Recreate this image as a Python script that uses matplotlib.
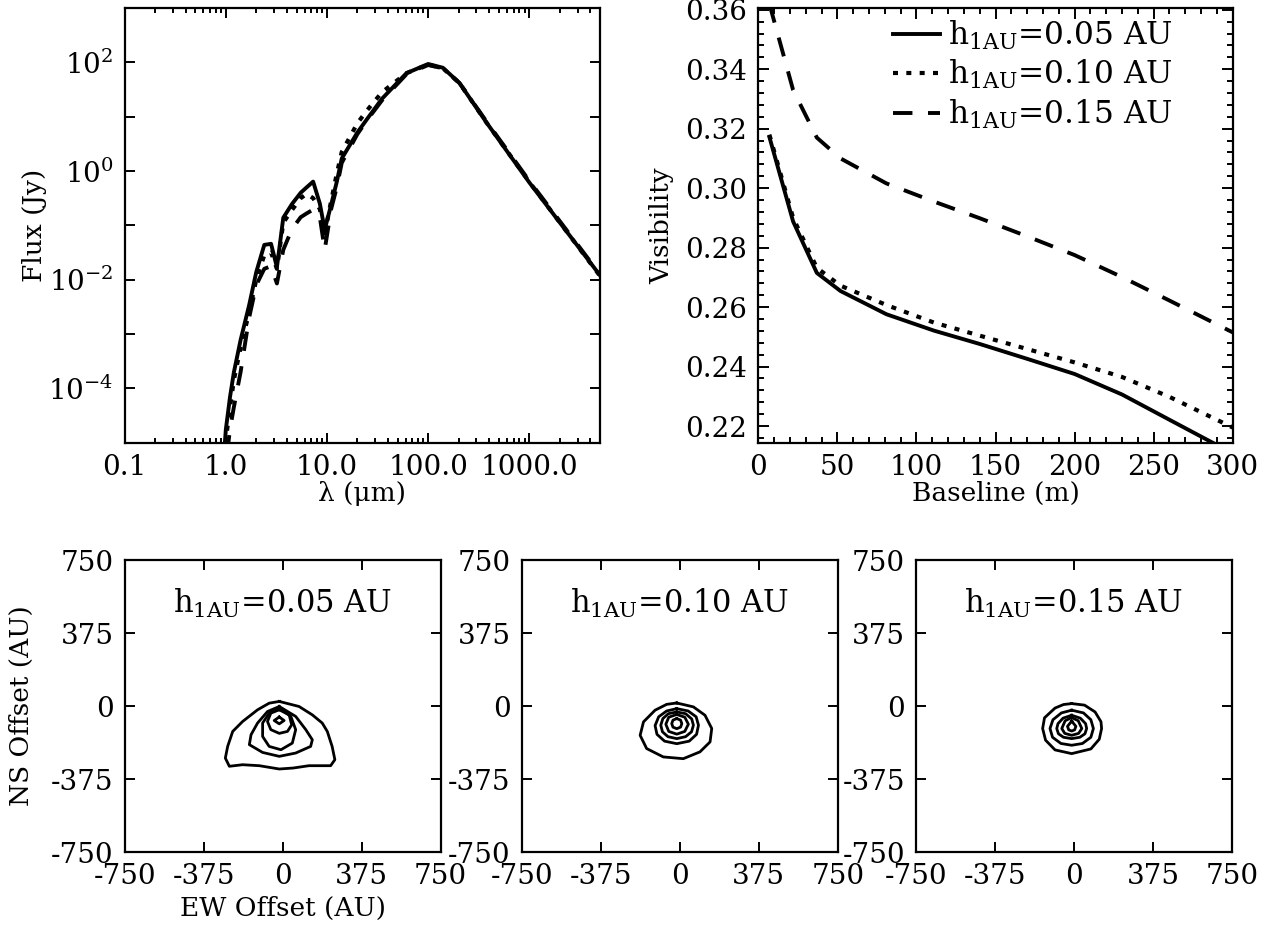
import numpy as np
import matplotlib
matplotlib.use("Agg")
import matplotlib.pyplot as plt
from matplotlib.ticker import MultipleLocator, LogLocator, NullFormatter

plt.rcParams['font.family'] = ['DejaVu Serif']
plt.rcParams['mathtext.fontset'] = 'dejavuserif'
plt.rcParams['axes.linewidth'] = 1.6

#%% data
# SED: wavelength (um) and log10 flux (Jy) for the three scale heights
wav = [0.9, 1.0, 1.1, 1.2, 1.4, 1.7, 2.0, 2.4, 2.8, 3.2, 3.7, 4.5, 5.5, 6.3, 7.3,
       8.5, 9.5, 11, 12.5, 14, 20, 25, 35, 61, 100, 140, 204, 375, 1000, 5000]
logf_005 = [-6.0, -4.76, -4.16, -3.71, -3.11, -2.47, -1.86, -1.36, -1.34, -1.77, -0.86,
            -0.61, -0.40, -0.30, -0.195, -0.60, -1.08, -0.62, -0.20, 0.23, 0.71, 0.96,
            1.33, 1.80, 1.97, 1.90, 1.62, 0.90, -0.21, -1.92]
logf_010 = [-6.0, -4.95, -4.35, -3.85, -3.25, -2.60, -2.00, -1.55, -1.50, -1.80, -0.95,
            -0.72, -0.50, -0.42, -0.50, -0.70, -1.15, -0.55, -0.05, 0.35, 0.88, 1.12,
            1.45, 1.80, 1.96, 1.89, 1.62, 0.90, -0.20, -1.93]
logf_015 = [-6.5, -5.40, -4.75, -4.35, -3.70, -2.70, -2.10, -1.80, -1.75, -2.07, -1.45,
            -1.07, -0.85, -0.78, -0.71, -0.85, -1.45, -0.70, -0.30, 0.15, 0.68, 0.94,
            1.30, 1.78, 1.95, 1.89, 1.62, 0.92, -0.18, -1.90]

# visibility vs baseline (m)
baseline = [7, 22, 37, 52, 81, 111, 140, 170, 200, 230, 260, 300]
vis_005 = [0.3172, 0.2888, 0.2715, 0.2654, 0.2576, 0.2521, 0.2476, 0.2426, 0.2375,
           0.2306, 0.2221, 0.2108]
vis_010 = [0.3180, 0.2900, 0.2732, 0.2672, 0.2607, 0.2548, 0.2504, 0.2459, 0.2414,
           0.2365, 0.2298, 0.2195]
vis_015 = [0.3620, 0.3330, 0.3170, 0.3100, 0.3016, 0.2955, 0.2899, 0.2838, 0.2775,
           0.2701, 0.2622, 0.2515]

labels = [r'h$_{\rm 1AU}$=0.05 AU', r'h$_{\rm 1AU}$=0.10 AU', r'h$_{\rm 1AU}$=0.15 AU']

# image contours (EW, NS offsets in AU), outer to inner
cont_005 = [
    [(-16, 24), (78, -2), (141, -45), (188, -87), (212, -130), (235, -207), (248, -275),
     (228, -306), (125, -306), (50, -318), (-16, -323), (-111, -306), (-190, -301),
     (-253, -309), (-272, -267), (-261, -207), (-237, -130), (-190, -79), (-119, -19),
     (-64, 15)],
    [(-16, -2), (62, -53), (110, -121), (141, -173), (133, -207), (62, -241), (-16, -258),
     (-95, -238), (-158, -198), (-150, -147), (-119, -87), (-72, -28)],
    [(-16, -10), (39, -53), (62, -121), (46, -190), (-8, -224), (-64, -207), (-95, -156),
     (-95, -87), (-64, -36)],
    [(-16, -19), (31, -45), (43, -96), (23, -130), (-16, -140), (-56, -121), (-72, -79),
     (-56, -36)],
    [(-16, -56), (7, -74), (-16, -91), (-40, -74)],
]
cont_010 = [
    [(-14, 16), (65, -4), (120, -47), (152, -115), (144, -184), (96, -235), (17, -270),
     (-78, -261), (-157, -218), (-188, -150), (-172, -81), (-117, -21), (-62, 9)],
    [(-14, -13), (40, -25), (78, -55), (89, -98), (80, -145), (45, -180), (-14, -193),
     (-72, -180), (-108, -145), (-117, -100), (-100, -55), (-62, -25)],
    [(-14, -30), (28, -39), (57, -66), (65, -98), (56, -132), (28, -157), (-14, -167),
     (-56, -157), (-82, -132), (-90, -98), (-80, -64), (-54, -39)],
    [(-14, -43), (24, -57), (41, -93), (24, -130), (-14, -144), (-52, -130), (-66, -93),
     (-52, -57)],
    [(-14, -64), (4, -72), (10, -90), (4, -108), (-14, -116), (-32, -108), (-38, -90),
     (-32, -72)],
]
cont_015 = [
    [(-11, 13), (50, 5), (100, -30), (128, -80), (131, -115), (120, -170), (80, -220),
     (-11, -244), (-90, -225), (-135, -175), (-149, -115), (-140, -60), (-90, -10),
     (-50, 8)],
    [(-11, -21), (45, -35), (80, -70), (92, -115), (80, -160), (40, -192), (-11, -201),
     (-62, -192), (-102, -160), (-114, -115), (-100, -70), (-60, -35)],
    [(-11, -47), (30, -62), (55, -90), (60, -115), (52, -142), (28, -160), (-11, -167),
     (-50, -160), (-74, -142), (-82, -115), (-76, -90), (-52, -62)],
    [(-11, -59), (20, -75), (37, -115), (22, -140), (-11, -150), (-44, -140), (-58, -115),
     (-42, -75)],
    [(-11, -77), (9, -104), (3, -122), (-11, -128), (-25, -122), (-31, -104)],
]
map_ticks = [-750, -375, 0, 375, 750]

#%% plot
fs_tick = 20
fs_lab = 19
styles = ['-', (0, (1.2, 2.0)), (0, (5.0, 4.0))]
widths = [2.8, 3.0, 2.8]

fig = plt.figure(figsize=(12.76, 9.30), dpi=100)

def style_ax(ax, major=7, minor=3.5):
    ax.tick_params(which='both', direction='in', top=True, right=True, width=1.4,
                   labelsize=fs_tick, pad=8)
    ax.tick_params(which='major', length=major)
    ax.tick_params(which='minor', length=minor)

top_b, top_h = 0.524, 0.4674

# SED
ax1 = fig.add_axes([0.0977, top_b, 0.3725, top_h])
for lf, ls, lw in zip([logf_005, logf_010, logf_015], styles, widths):
    ax1.plot(wav, 10.0 ** np.array(lf), color='k', ls=ls, lw=lw)
ax1.set_xscale('log')
ax1.set_yscale('log')
ax1.set_xlim(0.1, 5000)
ax1.set_ylim(1e-5, 1e3)
ax1.set_xticks([0.1, 1, 10, 100, 1000], ['0.1', '1.0', '10.0', '100.0', '1000.0'])
ax1.xaxis.set_minor_locator(LogLocator(base=10, subs=np.arange(2, 10)))
ax1.xaxis.set_minor_formatter(NullFormatter())
yt = [10.0 ** e for e in range(-5, 4)]
ytl = [r'10$^{%d}$' % e if e % 2 == 0 else '' for e in range(-5, 4)]
ax1.set_yticks(yt, ytl)
ax1.yaxis.set_minor_locator(plt.NullLocator())
style_ax(ax1)
ax1.set_xlabel(r'λ (μm)', fontsize=fs_lab, labelpad=0)
ax1.set_ylabel('Flux (Jy)', fontsize=fs_lab, labelpad=1)

# visibility
ax2 = fig.add_axes([0.5943, top_b, 0.3718, top_h])
for v, ls, lw, lab in zip([vis_005, vis_010, vis_015], styles, widths, labels):
    ax2.plot(baseline, v, color='k', ls=ls, lw=lw, label=lab)
ax2.set_xlim(0, 300)
ax2.set_ylim(0.2144, 0.3606)
ax2.xaxis.set_major_locator(MultipleLocator(50))
ax2.xaxis.set_minor_locator(MultipleLocator(10))
vt = np.arange(0.22, 0.3601, 0.02)
ax2.set_yticks(vt, ['%.2f' % t for t in vt])
ax2.yaxis.set_minor_locator(MultipleLocator(0.004))
style_ax(ax2, major=8, minor=4)
ax2.set_xlabel('Baseline (m)', fontsize=fs_lab, labelpad=0)
ax2.set_ylabel('Visibility', fontsize=fs_lab, labelpad=8)
ax2.legend(loc='upper left', bbox_to_anchor=(0.284, 0.975), frameon=False, fontsize=22.5,
           handlelength=1.5, handletextpad=0.25, labelspacing=0.2, borderaxespad=0,
           borderpad=0)

# contour maps
lefts = [0.0977, 0.4089, 0.7179]
for i, (conts, lab) in enumerate(zip([cont_005, cont_010, cont_015], labels)):
    ax = fig.add_axes([lefts[i], 0.0837, 0.2476, 0.3141])
    for c in conts:
        xy = np.array(c + [c[0]], dtype=float)
        ax.plot(xy[:, 0], xy[:, 1], color='k', lw=2.0)
    ax.set_xlim(-750, 750)
    ax.set_ylim(-750, 750)
    ax.set_xticks(map_ticks, [str(t) for t in map_ticks])
    ax.set_yticks(map_ticks, [str(t) for t in map_ticks])
    style_ax(ax, major=7)
    ax.text(0.5, 0.85, lab, transform=ax.transAxes, ha='center', va='center', fontsize=22)
    if i == 0:
        ax.set_xlabel('EW Offset (AU)', fontsize=fs_lab, labelpad=4)
        ax.set_ylabel('NS Offset (AU)', fontsize=fs_lab, labelpad=12)

fig.savefig('out.png', dpi=100)
